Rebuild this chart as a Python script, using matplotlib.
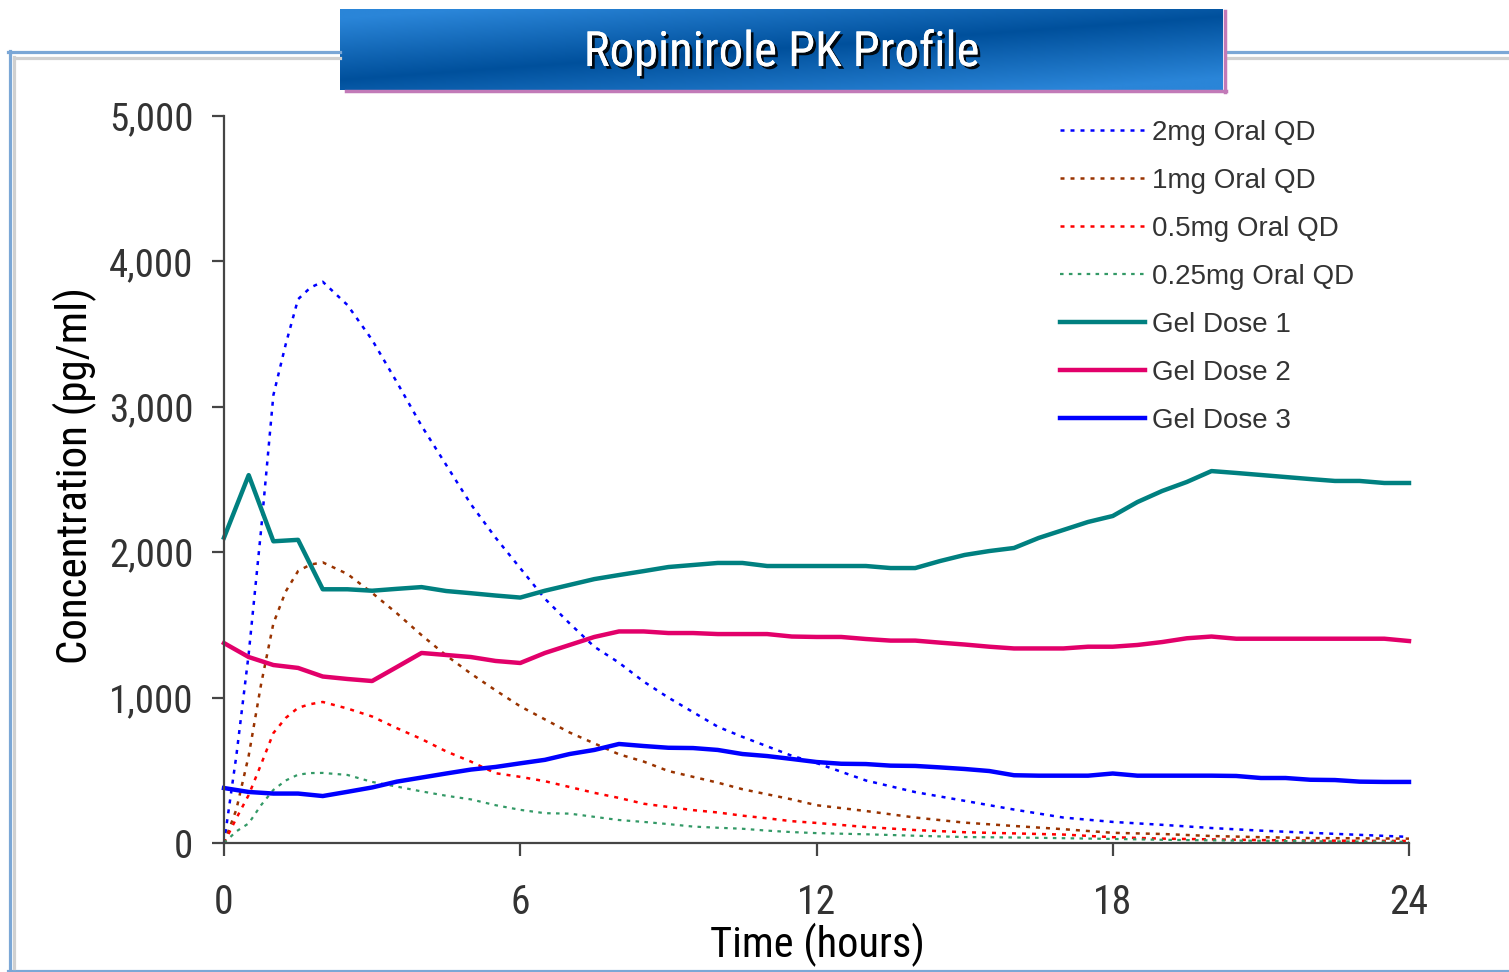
import os
import numpy as np
import matplotlib
matplotlib.use("Agg")
import matplotlib.pyplot as plt
from matplotlib import font_manager
from matplotlib.font_manager import FontProperties
from matplotlib.lines import Line2D
from matplotlib.ticker import FuncFormatter, FixedLocator
import matplotlib.patheffects as pe

# ---------------- data ----------------
oral_hours = [0, 0.25, 0.5, 0.75, 1, 1.25, 1.5, 1.75, 2, 2.5, 3, 3.5, 4, 4.5, 5, 5.5,
              6, 6.5, 7, 7.5, 8, 8.5, 9, 9.5, 10, 10.5, 11, 11.5, 12, 13, 14, 15,
              16, 17, 18, 19, 20, 21, 22, 23, 24]

oral_2mg = [0, 600, 1300, 2150, 3080, 3430, 3740, 3820, 3860, 3700, 3460, 3170, 2870,
            2600, 2330, 2100, 1890, 1680, 1510, 1350, 1240, 1110, 1000, 900, 800, 730,
            665, 600, 550, 430, 350, 290, 230, 175, 145, 125, 103, 85, 70, 56, 42]

oral_1mg = [0, 230, 600, 1090, 1510, 1730, 1870, 1915, 1930, 1850, 1720, 1580, 1430,
            1290, 1165, 1050, 940, 850, 760, 685, 610, 560, 495, 455, 415, 370, 335,
            300, 260, 220, 175, 140, 117, 95, 70, 62, 48, 40, 34, 32, 30]

oral_05mg = [0, 170, 330, 540, 756, 860, 930, 955, 970, 925, 870, 790, 715, 630, 560,
             480, 455, 425, 385, 345, 310, 270, 248, 226, 210, 188, 170, 150, 138, 110,
             89, 74, 66, 58, 40, 30, 25, 20, 17, 15, 14]

oral_025mg = [0, 80, 135, 260, 365, 430, 470, 481, 482, 468, 420, 388, 355, 325, 300,
              260, 228, 205, 202, 180, 158, 145, 130, 113, 105, 98, 85, 75, 68, 60, 50,
              41, 38, 33, 28, 22, 18, 15, 12, 10, 8]

gel_hours = [0, 0.5, 1, 1.5, 2, 2.5, 3, 3.5, 4, 4.5, 5, 5.5, 6, 6.5, 7, 7.5, 8, 8.5,
             9, 9.5, 10, 10.5, 11, 11.5, 12, 12.5, 13, 13.5, 14, 14.5, 15, 15.5, 16,
             16.5, 17, 17.5, 18, 18.5, 19, 19.5, 20, 20.5, 21, 21.5, 22, 22.5, 23,
             23.5, 24]

gel_dose1 = [2100, 2530, 2075, 2085, 1745, 1745, 1735, 1748, 1760, 1733, 1718, 1702,
             1688, 1735, 1775, 1815, 1843, 1870, 1898, 1912, 1926, 1926, 1905, 1905,
             1905, 1905, 1905, 1891, 1891, 1939, 1981, 2008, 2029, 2098, 2153, 2208,
             2249, 2345, 2421, 2483, 2558, 2545, 2531, 2517, 2503, 2490, 2490, 2476,
             2476]

gel_dose2 = [1375, 1279, 1224, 1204, 1145, 1128, 1114, 1210, 1307, 1293, 1279, 1252,
             1238, 1307, 1362, 1417, 1455, 1455, 1444, 1444, 1437, 1437, 1437, 1420,
             1417, 1417, 1403, 1392, 1392, 1378, 1365, 1350, 1338, 1338, 1338, 1350,
             1350, 1362, 1382, 1408, 1420, 1405, 1405, 1405, 1405, 1405, 1405, 1405,
             1389]

gel_dose3 = [378, 351, 340, 340, 323, 352, 382, 422, 450, 478, 505, 523, 548, 572, 612,
             640, 681, 667, 655, 653, 640, 612, 598, 578, 557, 545, 543, 532, 530, 520,
             509, 495, 466, 463, 463, 463, 478, 463, 463, 463, 463, 461, 447, 447, 435,
             433, 422, 420, 420]

x_ticks = [0, 6, 12, 18, 24]
y_ticks = [0, 1000, 2000, 3000, 4000, 5000]

title = "Ropinirole PK Profile"
x_label = "Time (hours)"
y_label = "Concentration (pg/ml)"

# ---------------- fonts ----------------
# Prefer a narrow/condensed sans face for the axis text; fall back to Liberation Sans.
font_files = [f.fname for f in font_manager.fontManager.ttflist]
preferred = ["LiberationSansNarrow-Regular", "RobotoCondensed-Regular",
             "NotoSans-Condensed.", "NotoSans-CondensedRegular", "NotoSans-SemiCondensed.",
             "OpenSans-CondensedRegular", "OpenSans_Condensed-Regular",
             "DejaVuSansCondensed.", "LiberationSansNarrow"]
narrow_file = None
for key in preferred:
    hits = [p for p in font_files if key.lower() in os.path.basename(p).lower()]
    if hits:
        narrow_file = sorted(hits, key=len)[0]
        break
if narrow_file is None:
    extra = [p for p in font_files
             if ("condensed" in os.path.basename(p).lower() or "narrow" in os.path.basename(p).lower())
             and "bold" not in os.path.basename(p).lower()
             and "italic" not in os.path.basename(p).lower()
             and "extra" not in os.path.basename(p).lower()
             and "mono" not in os.path.basename(p).lower()
             and "serif" not in os.path.basename(p).lower()]
    if extra:
        narrow_file = sorted(extra, key=len)[0]


def narrow(size):
    if narrow_file:
        return FontProperties(fname=narrow_file, size=size)
    return FontProperties(family="Liberation Sans", size=size * 0.85)


REGULAR = "Liberation Sans"
TEXT_COL = "#333333"

W, H, DPI = 1509, 972, 100
fig = plt.figure(figsize=(W / DPI, H / DPI), dpi=DPI, facecolor="white")


def fx(px):
    return px / W


def fy(py):
    return (H - py) / H


# ---------------- outer frame ----------------
frame_blue = "#7BA7D6"
frame_grey = "#D0D0D0"
fig.add_artist(Line2D([fx(9.5), fx(9.5)], [fy(51), fy(972)], color=frame_blue, lw=2.3))
fig.add_artist(Line2D([fx(8), fx(340)], [fy(52.5), fy(52.5)], color=frame_blue, lw=2.3))
fig.add_artist(Line2D([fx(1227), fx(1509)], [fy(52.5), fy(52.5)], color=frame_blue, lw=2.3))
fig.add_artist(Line2D([fx(8), fx(1509)], [fy(970.5), fy(970.5)], color=frame_blue, lw=2.3))
fig.add_artist(Line2D([fx(14), fx(14)], [fy(57), fy(968)], color=frame_grey, lw=2.3))
fig.add_artist(Line2D([fx(14), fx(340)], [fy(58), fy(58)], color=frame_grey, lw=2.3))
fig.add_artist(Line2D([fx(1227), fx(1509)], [fy(58), fy(58)], color=frame_grey, lw=2.3))

# ---------------- title banner ----------------
bx0, bx1, by0, by1 = 340, 1223, 9, 90
shadow_col = "#C27AB8"
fig.add_artist(Line2D([fx(346), fx(1226)], [fy(91), fy(91)], color=shadow_col, lw=2.5))
fig.add_artist(Line2D([fx(1225), fx(1225)], [fy(11), fy(92)], color=shadow_col, lw=2.5))

bax = fig.add_axes([fx(bx0), fy(by1), (bx1 - bx0) / W, (by1 - by0) / H])
bax.set_axis_off()
gx = np.linspace(0, 1, 400)
gy = np.linspace(0, 1, 80)
GX, GY = np.meshgrid(gx, gy)
band = 0.88 - 0.78 * GX
dist = np.clip(np.abs(GY - band) / 0.75, 0, 1)
light = np.array([0x2A, 0x85, 0xD8]) / 255
dark = np.array([0x00, 0x50, 0x9C]) / 255
grad = dark[None, None, :] + (light - dark)[None, None, :] * dist[..., None]
bax.imshow(grad, extent=[0, 1, 0, 1], origin="upper", aspect="auto")
bax.set_xlim(0, 1)
bax.set_ylim(0, 1)
bax.text(0.5, 0.46, title, color="white", fontproperties=narrow(35),
         ha="center", va="center",
         path_effects=[pe.withSimplePatchShadow(offset=(2, -2), shadow_rgbFace="black", alpha=0.9),
                       pe.Normal()])

# ---------------- main axes ----------------
ax0, ax1, ay0, ay1 = 224, 1409, 116, 843
ax = fig.add_axes([fx(ax0), fy(ay1), (ax1 - ax0) / W, (ay1 - ay0) / H])
ax.set_facecolor("none")

dot = (0, (1.6, 2.4))
ax.plot(oral_hours, oral_2mg, color="#0000FF", lw=1.8, ls=dot, label="2mg Oral QD", clip_on=False)
ax.plot(oral_hours, oral_1mg, color="#993300", lw=1.8, ls=dot, label="1mg Oral QD", clip_on=False)
ax.plot(oral_hours, oral_05mg, color="#FF0000", lw=1.8, ls=dot, label="0.5mg Oral QD", clip_on=False)
ax.plot(oral_hours, oral_025mg, color="#339966", lw=1.6, ls=dot, label="0.25mg Oral QD", clip_on=False)
ax.plot(gel_hours, gel_dose1, color="#008080", lw=3.2, label="Gel Dose 1", clip_on=False,
        solid_joinstyle="round")
ax.plot(gel_hours, gel_dose2, color="#E2006A", lw=3.2, label="Gel Dose 2", clip_on=False,
        solid_joinstyle="round")
ax.plot(gel_hours, gel_dose3, color="#0000FF", lw=3.2, label="Gel Dose 3", clip_on=False,
        solid_joinstyle="round")

ax.set_xlim(0, 24)
ax.set_ylim(0, 5000)
ax.xaxis.set_major_locator(FixedLocator(x_ticks))
ax.yaxis.set_major_locator(FixedLocator(y_ticks))
ax.yaxis.set_major_formatter(FuncFormatter(lambda v, p: f"{int(v):,}"))

for side in ("top", "right"):
    ax.spines[side].set_visible(False)
for side in ("left", "bottom"):
    ax.spines[side].set_color("#454545")
    ax.spines[side].set_linewidth(1.6)

ax.tick_params(axis="both", direction="out", length=9, width=1.6, color="#454545",
               labelcolor=TEXT_COL)
ax.tick_params(axis="y", pad=13)
ax.tick_params(axis="x", pad=20)
fig.canvas.draw()
for lab in ax.get_yticklabels():
    lab.set_fontproperties(narrow(28))
for lab in ax.get_xticklabels():
    lab.set_fontproperties(narrow(28.5))

fig.text(fx(75), fy(475), y_label, rotation=90, ha="center", va="center",
         fontproperties=narrow(31), color="black")
fig.text(fx(817), fy(945), x_label, ha="center", va="center",
         fontproperties=narrow(30.5), color="black")

leg = ax.legend(loc="upper left", bbox_to_anchor=(fx(1060), fy(120)),
                bbox_transform=fig.transFigure, frameon=False,
                prop={"family": REGULAR, "size": 20},
                handlelength=3.05, handletextpad=0.25, labelspacing=0.79,
                borderpad=0, borderaxespad=0)
for t in leg.get_texts():
    t.set_color(TEXT_COL)

fig.savefig("out.png", dpi=DPI, facecolor="white")
